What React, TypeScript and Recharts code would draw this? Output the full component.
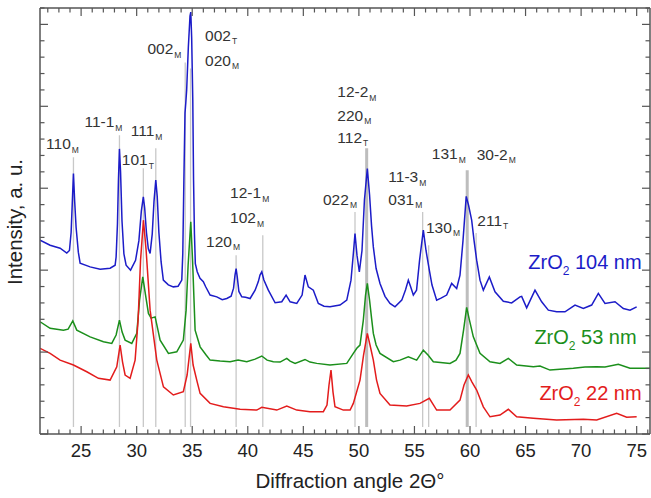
import React from 'react';
import { LineChart, Line, XAxis, YAxis, ReferenceLine, ReferenceDot } from 'recharts';

// 2-theta positions (deg) and intensities (a.u.)
const blueX = [21.31, 22.21, 23.11, 23.71, 23.95, 24.1, 24.2, 24.31, 24.42, 24.55, 24.75, 24.91, 25.81, 26.71, 27.61, 28.06, 28.15, 28.27, 28.36, 28.45, 28.55, 28.68, 28.85, 29.05, 29.45, 29.9, 30.2, 30.42, 30.6, 30.72, 30.88, 31.05, 31.21, 31.4, 31.56, 31.72, 31.85, 32.0, 32.2, 32.4, 32.85, 33.3, 33.73, 34.06, 34.15, 34.25, 34.35, 34.42, 34.5, 34.65, 34.8, 34.87, 34.95, 35.05, 35.12, 35.2, 35.28, 35.45, 35.7, 36.0, 36.2, 36.61, 37.21, 37.7, 38.11, 38.5, 38.72, 38.85, 38.95, 39.05, 39.2, 39.46, 39.8, 40.21, 40.66, 40.95, 41.1, 41.26, 41.45, 41.85, 42.46, 43.06, 43.45, 43.81, 44.41, 44.89, 45.15, 45.45, 45.9, 46.35, 46.86, 47.4, 48.3, 48.91, 49.29, 49.5, 49.65, 49.83, 50.04, 50.28, 50.5, 50.76, 50.96, 51.14, 51.3, 51.55, 51.9, 52.35, 52.8, 53.25, 53.86, 54.2, 54.45, 54.65, 54.9, 55.19, 55.46, 55.8, 56.04, 56.34, 56.58, 57.0, 57.39, 57.9, 58.35, 58.8, 59.1, 59.37, 59.66, 59.87, 60.15, 60.36, 60.6, 60.9, 61.2, 61.74, 62.25, 63.0, 63.75, 64.5, 64.65, 65.1, 65.85, 66.45, 67.05, 67.8, 68.55, 69.45, 70.2, 70.95, 71.55, 72.15, 73.05, 73.8, 74.4, 75.0];
const blueY = [11.83, 11.52, 11.34, 11.04, 11.2, 12.3, 14.0, 15.9, 14.2, 12.6, 11.1, 10.43, 10.2, 10.06, 10.12, 10.3, 10.8, 12.8, 15.5, 17.4, 16.0, 13.0, 11.0, 10.3, 10.0, 10.6, 11.8, 13.6, 14.47, 13.8, 12.3, 11.3, 11.02, 12.2, 14.2, 15.5, 14.5, 12.3, 10.5, 9.39, 9.1, 8.98, 9.02, 9.39, 11.0, 15.5, 19.6, 20.2, 21.0, 23.6, 25.5, 25.75, 24.2, 20.4, 15.5, 12.2, 10.4, 9.9, 9.5, 9.3, 9.0, 8.48, 8.37, 8.2, 8.27, 8.41, 8.9, 9.7, 10.1, 9.6, 8.7, 8.37, 8.35, 8.27, 8.78, 9.3, 9.7, 9.9, 9.4, 8.78, 8.01, 8.07, 8.48, 8.07, 7.97, 8.48, 9.7, 8.98, 8.78, 7.97, 7.8, 7.76, 7.87, 8.17, 9.39, 11.0, 12.24, 10.9, 9.9, 11.2, 14.3, 16.2, 14.6, 12.7, 11.42, 10.1, 9.19, 8.4, 7.97, 7.76, 8.17, 8.8, 9.39, 9.0, 8.48, 8.78, 10.6, 12.44, 11.2, 10.0, 9.09, 8.17, 8.29, 8.48, 9.19, 8.88, 9.7, 11.8, 14.5, 13.96, 13.05, 11.83, 10.61, 9.39, 8.78, 9.59, 8.68, 8.1, 8.0, 8.37, 8.4, 7.7, 8.78, 8.07, 7.56, 7.46, 7.46, 7.87, 7.66, 7.87, 8.58, 7.97, 8.07, 7.66, 7.56, 7.76];

const greenX = [21.31, 22.21, 23.41, 23.83, 24.25, 24.61, 25.81, 27.01, 27.76, 28.15, 28.45, 28.69, 28.96, 29.56, 30.01, 30.26, 30.55, 30.8, 31.06, 31.3, 31.66, 31.88, 32.11, 32.86, 33.61, 34.2, 34.45, 34.63, 34.87, 35.03, 35.26, 35.71, 36.25, 36.61, 37.51, 38.41, 39.13, 39.91, 40.66, 41.26, 41.74, 42.3, 42.91, 43.51, 43.81, 44.26, 45.15, 45.6, 46.21, 47.4, 48.91, 49.5, 49.81, 50.1, 50.4, 50.6, 50.76, 50.96, 51.14, 51.3, 51.55, 51.9, 53.1, 53.7, 54.45, 55.2, 55.8, 56.22, 56.7, 58.2, 58.74, 59.1, 59.42, 59.7, 59.95, 60.3, 60.9, 61.8, 62.7, 63.45, 64.2, 65.7, 66.3, 67.2, 69.3, 70.35, 71.4, 72.15, 73.35, 74.4, 75.3, 76.2];
const greenY = [6.85, 6.45, 6.34, 6.4, 6.9, 6.34, 5.93, 5.63, 5.53, 6.04, 6.95, 6.22, 5.73, 5.53, 6.14, 8.17, 9.59, 8.48, 7.36, 7.07, 7.15, 6.46, 5.73, 4.92, 5.02, 5.73, 7.56, 10.3, 12.95, 10.6, 6.34, 5.32, 4.82, 4.51, 4.45, 4.41, 4.51, 4.41, 4.57, 4.76, 4.51, 4.41, 4.39, 4.62, 4.45, 4.31, 4.55, 4.39, 4.31, 4.21, 4.31, 4.92, 5.23, 5.43, 6.95, 8.48, 9.19, 8.17, 7.07, 6.14, 5.43, 4.92, 4.41, 4.51, 4.71, 4.51, 5.12, 4.82, 4.41, 4.31, 4.51, 4.92, 6.34, 7.73, 6.95, 5.93, 4.92, 4.41, 4.31, 4.62, 4.21, 4.1, 4.15, 3.9, 4.01, 4.09, 4.1, 4.09, 4.25, 4.01, 4.02, 4.01];

const redX = [21.31, 22.21, 23.11, 24.31, 25.51, 26.56, 27.61, 28.21, 28.51, 28.73, 28.96, 29.41, 29.86, 30.13, 30.35, 30.61, 30.85, 31.21, 31.81, 32.41, 33.3, 34.2, 34.54, 34.87, 35.08, 35.44, 35.71, 36.61, 37.81, 39.31, 40.81, 41.26, 42.61, 43.51, 44.41, 45.6, 46.8, 47.13, 47.31, 47.49, 47.67, 47.85, 48.6, 49.21, 49.5, 50.1, 50.42, 50.76, 51.0, 51.3, 51.59, 51.9, 52.8, 54.3, 55.5, 56.34, 57.0, 58.2, 59.1, 59.46, 59.85, 60.18, 60.6, 61.2, 61.8, 62.7, 63.45, 64.2, 65.7, 67.8, 70.2, 71.4, 73.2, 74.1, 75.0];
const redY = [5.23, 4.92, 4.51, 4.21, 3.8, 3.4, 3.29, 4.1, 5.43, 4.39, 3.6, 3.4, 4.51, 6.95, 10.61, 13.05, 11.22, 7.56, 4.51, 2.88, 2.38, 2.58, 3.6, 5.53, 4.21, 3.2, 2.48, 1.87, 1.66, 1.51, 1.46, 1.63, 1.46, 1.71, 1.46, 1.36, 1.36, 1.77, 2.99, 3.9, 2.56, 1.66, 1.46, 1.46, 1.87, 3.29, 4.82, 6.14, 5.43, 4.51, 3.29, 2.48, 1.77, 1.71, 1.87, 2.18, 1.46, 1.46, 2.07, 2.99, 3.6, 3.17, 2.68, 1.66, 1.05, 1.16, 1.51, 1.05, 0.96, 0.85, 0.9, 0.85, 1.26, 1.02, 1.05];

// reflection marker lines: position and how high they reach
const refPos = [24.31, 28.45, 30.6, 31.72, 34.37, 34.85, 38.95, 41.35, 49.65, 50.7, 55.74, 56.28, 59.75, 60.55];
const refTop = [16.89, 18.23, 16.22, 17.44, 22.68, 22.3, 10.91, 12.13, 13.55, 17.44, 13.55, 11.52, 16.1, 12.26];
const refWide = [false, false, false, false, false, false, false, false, false, true, false, false, true, false];

// hkl labels (text, subscript, left x, baseline y)
const hklText = ['110', '11-1', '111', '101', '002', '002', '020', '120', '12-1', '102', '022', '12-2', '220', '112', '11-3', '031', '130', '131', '30-2', '211'];
const hklSub = ['M', 'M', 'M', 'T', 'M', 'T', 'M', 'M', 'M', 'M', 'M', 'M', 'M', 'T', 'M', 'M', 'M', 'M', 'M', 'T'];
const hklX = [21.85, 25.3, 29.47, 28.66, 30.97, 36.16, 36.16, 36.25, 38.41, 38.41, 46.77, 48.06, 48.06, 48.06, 52.65, 52.65, 56.04, 56.56, 60.6, 60.66];
const hklY = [17.39, 18.71, 18.16, 16.41, 23.18, 23.99, 22.47, 11.43, 14.38, 12.85, 13.99, 20.54, 19.12, 17.79, 15.35, 13.98, 12.27, 16.78, 16.74, 12.71];

const sizes = ['104', '53', '22'];
const sizeX = [75.45, 75.0, 75.45];
const sizeY = [10.08, 5.51, 2.05];

const xTicks = [22, 23, 24, 25, 26, 27, 28, 29, 30, 31, 32, 33, 34, 35, 36, 37, 38, 39, 40, 41, 42, 43, 44, 45, 46, 47, 48, 49, 50, 51, 52, 53, 54, 55, 56, 57, 58, 59, 60, 61, 62, 63, 64, 65, 66, 67, 68, 69, 70, 71, 72, 73, 74, 75, 76];
const yTicks = [0, 1, 2, 3, 4, 5, 6, 7, 8, 9, 10, 11, 12, 13, 14, 15, 16, 17, 18, 19, 20, 21, 22, 23, 24, 25, 26];

const colors = ['#1c1cc8', '#1b8f1b', '#e31c1c'];
const AXIS = '#555';
const FONT = '"Liberation Sans", Arial, sans-serif';

const toPoints = (xs: number[], ys: number[]) => xs.map((x, i) => ({ x, y: ys[i] }));
const blueData = toPoints(blueX, blueY);
const greenData = toPoints(greenX, greenY);
const redData = toPoints(redX, redY);

const tickLen = (v: number) => (v % 5 === 0 ? 8 : 4.5);

const BottomTick = (props: any) => {
  const { x, y, payload } = props;
  const v = payload.value;
  return (
    <g>
      <line x1={x} x2={x} y1={y} y2={y - tickLen(v)} stroke={AXIS} strokeWidth={1.2} />
      {v % 5 === 0 && (
        <text x={x} y={y + 23} textAnchor="middle" fontSize={18.5} fill="#222" fontFamily={FONT}>{v}</text>
      )}
    </g>
  );
};

const TopTick = (props: any) => {
  const { x, y, payload } = props;
  return <line x1={x} x2={x} y1={y} y2={y + tickLen(payload.value)} stroke={AXIS} strokeWidth={1.2} />;
};

const LeftTick = (props: any) => {
  const { x, y, payload } = props;
  return <line x1={x} x2={x + tickLen(payload.value)} y1={y} y2={y} stroke={AXIS} strokeWidth={1.2} />;
};

const RightTick = (props: any) => {
  const { x, y, payload } = props;
  return <line x1={x} x2={x - tickLen(payload.value)} y1={y} y2={y} stroke={AXIS} strokeWidth={1.2} />;
};

const hklShape = (i: number) => (p: any) => (
  <text x={p.cx} y={p.cy} fontSize={15.5} fill="#333" fontFamily={FONT}>
    {hklText[i]}
    <tspan fontSize={8.5} dy={3.5} dx={1}>{hklSub[i]}</tspan>
  </text>
);

const sizeShape = (i: number) => (p: any) => (
  <text x={p.cx} y={p.cy} textAnchor="end" fontSize={20} fill={colors[i]} fontFamily={FONT}>
    ZrO
    <tspan fontSize={12} dy={6}>2</tspan>
    <tspan dy={-6}>{' ' + sizes[i] + ' nm'}</tspan>
  </text>
);

const XTitle = (props: any) => {
  const vb = props.viewBox;
  return (
    <text x={vb.x + vb.width / 2 + 5} y={vb.y + 54} textAnchor="middle" fontSize={20.5} fill="#222" fontFamily={FONT}>
      Diffraction angle 2Θ°
    </text>
  );
};

const YTitle = () => (
  <text transform="translate(22, 222) rotate(-90)" textAnchor="middle" fontSize={20.5} fill="#222" fontFamily={FONT}>
    Intensity, a. u.
  </text>
);

const App = () => {
  return (
    <div style={{ position: 'absolute', left: 0, top: 0, width: 651, height: 498, background: '#fff', fontFamily: FONT }}>
      <LineChart width={651} height={498} margin={{ top: 7, right: 0, bottom: 0, left: 0 }}>
        <XAxis
          dataKey="x"
          type="number"
          domain={[21.3, 76.2]}
          ticks={xTicks}
          interval={0}
          allowDataOverflow
          height={64}
          tickSize={0}
          tickMargin={0}
          tickLine={false}
          tick={BottomTick}
          axisLine={{ stroke: AXIS, strokeWidth: 1.5 }}
          label={{ content: XTitle }}
        />
        <XAxis
          xAxisId="top"
          orientation="top"
          dataKey="x"
          type="number"
          domain={[21.3, 76.2]}
          ticks={xTicks}
          interval={0}
          allowDataOverflow
          height={1}
          tickSize={0}
          tickMargin={0}
          tickLine={false}
          tick={TopTick}
          axisLine={{ stroke: AXIS, strokeWidth: 1.5 }}
        />
        <YAxis
          type="number"
          domain={[0, 26]}
          ticks={yTicks}
          interval={0}
          allowDataOverflow
          width={40}
          tickSize={0}
          tickMargin={0}
          tickLine={false}
          tick={LeftTick}
          axisLine={{ stroke: AXIS, strokeWidth: 1.5 }}
          label={{ content: YTitle }}
        />
        <YAxis
          yAxisId="right"
          orientation="right"
          type="number"
          domain={[0, 26]}
          ticks={yTicks}
          interval={0}
          allowDataOverflow
          width={1}
          tickSize={0}
          tickMargin={0}
          tickLine={false}
          tick={RightTick}
          axisLine={{ stroke: AXIS, strokeWidth: 1.5 }}
        />
        {refPos.map((v, i) => (
          <ReferenceLine
            key={'r' + i}
            segment={[{ x: v, y: 0.43 }, { x: v, y: refTop[i] }]}
            stroke={refWide[i] ? '#bdbdbd' : '#c8c8c8'}
            strokeWidth={refWide[i] ? 3 : 1.3}
          />
        ))}
        <Line data={blueData} dataKey="y" type="linear" stroke={colors[0]} strokeWidth={1.5} dot={false} isAnimationActive={false} />
        <Line xAxisId="top" yAxisId="right" data={greenData} dataKey="y" type="linear" stroke={colors[1]} strokeWidth={1.5} dot={false} isAnimationActive={false} />
        <Line data={redData} dataKey="y" type="linear" stroke={colors[2]} strokeWidth={1.5} dot={false} isAnimationActive={false} />
        {hklText.map((t, i) => (
          <ReferenceDot key={'h' + i} x={hklX[i]} y={hklY[i]} r={0} shape={hklShape(i)} ifOverflow="visible" />
        ))}
        {sizes.map((s, i) => (
          <ReferenceDot key={'s' + i} x={sizeX[i]} y={sizeY[i]} r={0} shape={sizeShape(i)} ifOverflow="visible" />
        ))}
      </LineChart>
    </div>
  );
};

export default App;
